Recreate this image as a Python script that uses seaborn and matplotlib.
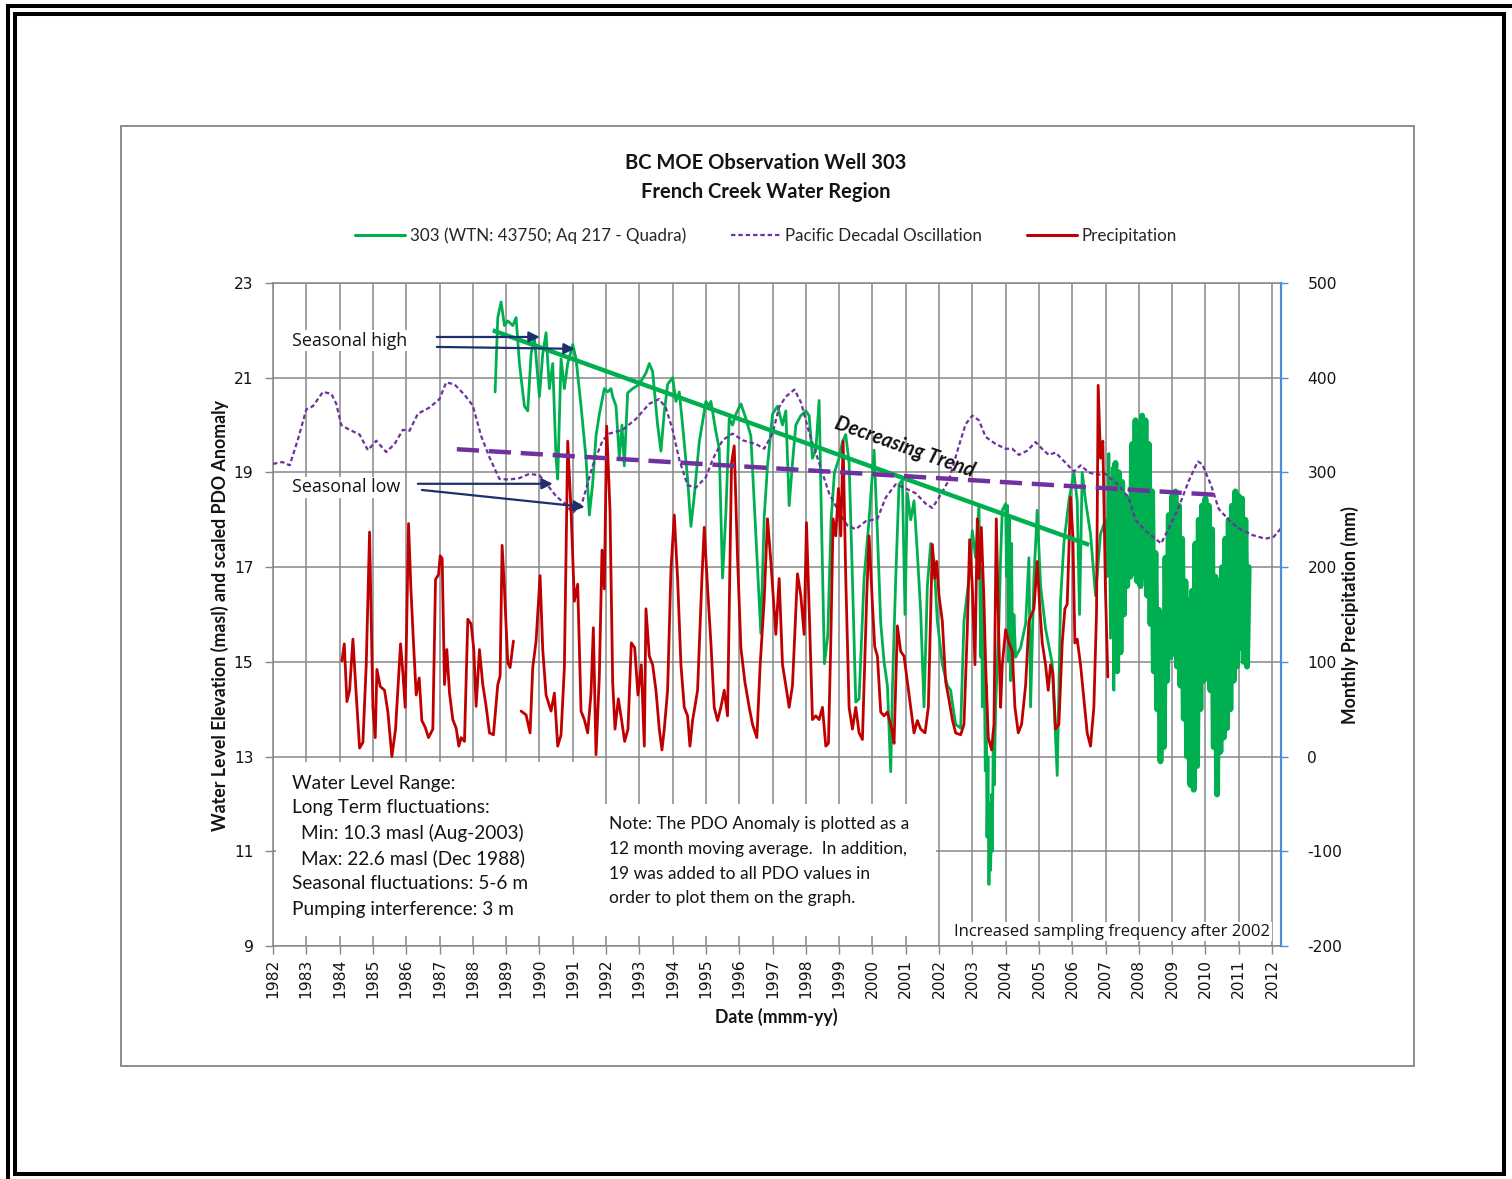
import numpy as np
import pandas as pd
import seaborn as sns
import matplotlib
matplotlib.use("Agg")
import matplotlib.pyplot as plt
from matplotlib.patches import Rectangle
from matplotlib.lines import Line2D

# ---------------- data ----------------
# water level, well 303 (masl) - regular sampling
well_years = [1988.67, 1988.75, 1988.85, 1988.95, 1989.05, 1989.2, 1989.3, 1989.4, 1989.55, 1989.65,
              1989.75, 1989.85, 1990.0, 1990.1, 1990.2, 1990.3, 1990.4, 1990.5, 1990.55, 1990.65,
              1990.75, 1990.85, 1991.0, 1991.1, 1991.25, 1991.4, 1991.5, 1991.6, 1991.7, 1991.8,
              1991.95, 1992.05, 1992.15, 1992.2, 1992.3, 1992.4, 1992.48, 1992.55, 1992.65, 1992.8,
              1993.0, 1993.2, 1993.3, 1993.4, 1993.55, 1993.65, 1993.75, 1993.85, 1994.0, 1994.1,
              1994.2, 1994.3, 1994.45, 1994.55, 1994.65, 1994.8, 1995.0, 1995.08, 1995.15, 1995.3,
              1995.4, 1995.5, 1995.6, 1995.7, 1995.8, 1995.9, 1996.05, 1996.2, 1996.35, 1996.5,
              1996.65, 1996.75, 1996.85, 1997.0, 1997.15, 1997.3, 1997.4, 1997.5, 1997.6, 1997.7,
              1997.85, 1998.0, 1998.1, 1998.2, 1998.3, 1998.4, 1998.47, 1998.56, 1998.66, 1998.76,
              1998.86, 1999.0, 1999.1, 1999.2, 1999.3, 1999.4, 1999.5, 1999.6, 1999.75, 1999.9,
              2000.05, 2000.15, 2000.25, 2000.35, 2000.45, 2000.55, 2000.6, 2000.7, 2000.8, 2000.9,
              2000.98, 2001.05, 2001.15, 2001.25, 2001.35, 2001.45, 2001.55, 2001.65, 2001.75, 2001.85,
              2001.95, 2002.1, 2002.25, 2002.35, 2002.4, 2002.5, 2002.65, 2002.75, 2002.9, 2003.0,
              2003.1, 2003.2, 2003.25, 2003.28, 2003.3, 2003.33, 2003.36, 2003.39, 2003.42, 2003.44,
              2003.47, 2003.5, 2003.52, 2003.55, 2003.58, 2003.6, 2003.63, 2003.66, 2003.7, 2003.8,
              2003.85, 2003.9, 2004.0, 2004.03, 2004.06, 2004.09, 2004.12, 2004.15, 2004.18, 2004.21,
              2004.25, 2004.3, 2004.45, 2004.6, 2004.7, 2004.75, 2004.85, 2004.95, 2005.05, 2005.2,
              2005.4, 2005.55, 2005.65, 2005.75, 2005.9, 2006.05, 2006.15, 2006.22, 2006.3, 2006.4,
              2006.55, 2006.7, 2006.85, 2007.0, 2007.05, 2007.1, 2007.15, 2007.2, 2007.25, 2007.28]
well_levels = [20.7, 22.27, 22.6, 22.1, 22.2, 22.1, 22.27, 21.3, 20.4, 20.3,
               21.5, 21.86, 20.6, 21.5, 21.95, 20.77, 21.3, 19.3, 18.86, 21.4,
               20.77, 21.3, 21.7, 21.4, 20.4, 19.3, 18.1, 18.77, 19.77, 20.23,
               20.77, 20.7, 20.77, 20.6, 20.4, 19.32, 20.0, 19.14, 20.68, 20.77,
               20.86, 21.1, 21.3, 21.13, 20.0, 19.45, 20.27, 20.86, 21.0, 20.5,
               20.7, 20.0, 18.86, 17.86, 18.5, 19.64, 20.5, 20.4, 20.5, 19.86,
               19.5, 16.77, 18.14, 20.14, 20.0, 20.23, 20.45, 20.14, 19.77, 17.68,
               15.6, 18.05, 19.14, 20.23, 20.4, 20.0, 20.3, 18.3, 19.2, 20.0,
               20.2, 20.3, 20.2, 19.3, 19.47, 20.52, 18.0, 14.96, 15.56, 18.0,
               19.0, 19.3, 19.65, 19.8, 19.2, 16.76, 14.15, 14.22, 16.76, 18.0,
               19.47, 17.73, 15.82, 15.0, 14.5, 12.68, 14.4, 16.76, 18.75, 18.84,
               16.0, 18.56, 18.0, 18.4, 17.3, 16.05, 14.05, 16.6, 17.5, 17.14,
               15.86, 14.95, 14.5, 14.4, 14.14, 13.68, 13.6, 15.86, 16.77, 17.77,
               17.2, 18.3, 15.1, 17.0, 14.05, 16.0, 15.0, 12.7, 14.5, 11.3,
               13.0, 10.3, 12.0, 10.6, 12.2, 11.0, 13.5, 12.4, 14.05, 15.86,
               17.2, 18.2, 18.34, 16.8, 18.3, 15.0, 18.0, 14.6, 17.5, 14.8,
               16.0, 15.1, 15.3, 15.8, 17.2, 14.05, 16.77, 18.2, 16.6, 15.7,
               14.96, 12.6, 16.3, 17.5, 18.4, 19.0, 18.4, 16.0, 19.0, 18.4,
               17.7, 16.4, 17.7, 18.0, 16.8, 19.4, 15.5, 19.1, 14.4, 19.1]

# water level after sampling frequency was increased (starts at last regular point)
well_hf_years = [2007.28, 2007.30, 2007.35, 2007.40, 2007.45, 2007.50, 2007.55, 2007.60, 2007.65, 2007.70,
                 2007.75, 2007.80, 2007.85, 2007.90, 2007.95, 2008.00, 2008.05, 2008.10, 2008.15, 2008.20,
                 2008.25, 2008.30, 2008.35, 2008.40, 2008.45, 2008.50, 2008.55, 2008.60, 2008.65, 2008.70,
                 2008.75, 2008.80, 2008.85, 2008.90, 2008.95, 2009.00, 2009.05, 2009.10, 2009.15, 2009.20,
                 2009.25, 2009.30, 2009.35, 2009.40, 2009.45, 2009.50, 2009.55, 2009.60, 2009.65, 2009.70,
                 2009.75, 2009.80, 2009.85, 2009.90, 2009.95, 2010.00, 2010.05, 2010.10, 2010.15, 2010.20,
                 2010.25, 2010.30, 2010.35, 2010.40, 2010.45, 2010.50, 2010.55, 2010.60, 2010.65, 2010.70,
                 2010.75, 2010.80, 2010.85, 2010.90, 2010.95, 2011.00, 2011.05, 2011.10, 2011.15, 2011.20,
                 2011.25, 2011.30]
well_hf_levels = [19.1, 19.2, 14.8, 19.0, 15.2, 18.8, 16.0, 18.5, 16.6, 18.3,
                  16.8, 19.6, 16.9, 20.1, 16.7, 20.0, 16.6, 20.2, 16.8, 20.1,
                  16.4, 19.6, 15.8, 18.6, 14.8, 17.3, 14.0, 16.1, 12.9, 15.5,
                  13.2, 17.2, 14.6, 18.1, 15.1, 18.5, 15.2, 18.6, 14.9, 18.3,
                  14.5, 17.6, 13.8, 16.7, 13.0, 16.3, 12.4, 16.5, 12.3, 17.5,
                  12.8, 18.0, 14.0, 18.3, 14.6, 18.45, 14.9, 18.3, 14.4, 17.8,
                  13.2, 16.8, 12.2, 16.7, 13.1, 17.0, 13.4, 17.6, 13.6, 18.0,
                  14.0, 18.3, 14.6, 18.6, 14.9, 18.5, 15.3, 18.45, 15.0, 18.0,
                  14.9, 17.0]

# PDO anomaly, 12 month moving average + 19
pdo_years = [1982.0, 1982.28, 1982.5, 1982.75, 1983.0, 1983.2, 1983.5, 1983.75, 1983.9, 1984.05,
             1984.3, 1984.6, 1984.85, 1985.1, 1985.4, 1985.65, 1985.9, 1986.1, 1986.35, 1986.7,
             1987.0, 1987.2, 1987.45, 1987.75, 1988.0, 1988.25, 1988.5, 1988.8, 1989.1, 1989.4,
             1989.7, 1990.0, 1990.2, 1990.5, 1990.8, 1991.0, 1991.3, 1991.6, 1991.9, 1992.1,
             1992.5, 1992.9, 1993.3, 1993.6, 1993.8, 1994.0, 1994.2, 1994.45, 1994.7, 1995.0,
             1995.2, 1995.5, 1995.8, 1996.1, 1996.5, 1996.75, 1997.0, 1997.2, 1997.4, 1997.66,
             1997.86, 1998.1, 1998.4, 1998.7, 1999.0, 1999.25, 1999.5, 1999.8, 2000.15, 2000.4,
             2000.7, 2001.0, 2001.3, 2001.6, 2001.8, 2002.0, 2002.3, 2002.6, 2002.8, 2003.0,
             2003.2, 2003.4, 2003.7, 2004.0, 2004.2, 2004.4, 2004.65, 2004.9, 2005.15, 2005.3,
             2005.5, 2005.75, 2006.05, 2006.25, 2006.5, 2006.75, 2007.0, 2007.2, 2007.4, 2007.7,
             2007.9, 2008.2, 2008.5, 2008.67, 2008.9, 2009.2, 2009.5, 2009.77, 2009.9, 2010.17,
             2010.4, 2010.7, 2011.0, 2011.4, 2011.8, 2012.05, 2012.27]
pdo_vals = [19.18, 19.22, 19.15, 19.7, 20.33, 20.4, 20.7, 20.66, 20.45, 20.0,
            19.9, 19.8, 19.47, 19.67, 19.43, 19.6, 19.9, 19.88, 20.24, 20.37,
            20.55, 20.9, 20.86, 20.64, 20.41, 19.77, 19.32, 18.86, 18.85, 18.88,
            18.97, 18.94, 18.77, 18.5, 18.32, 18.14, 18.4, 19.14, 19.68, 19.82,
            19.9, 20.13, 20.45, 20.55, 20.36, 19.9, 19.27, 18.73, 18.68, 18.9,
            19.27, 19.68, 19.82, 19.68, 19.6, 19.5, 19.82, 20.38, 20.6, 20.75,
            20.47, 19.84, 19.2, 18.56, 18.15, 17.88, 17.8, 17.97, 18.02, 18.47,
            18.75, 18.66, 18.56, 18.34, 18.25, 18.47, 18.84, 19.57, 20.02, 20.2,
            20.1, 19.75, 19.6, 19.5, 19.5, 19.37, 19.46, 19.64, 19.46, 19.37,
            19.42, 19.24, 19.02, 19.15, 19.0, 18.95, 18.97, 18.84, 18.73, 18.45,
            18.0, 17.77, 17.6, 17.5, 17.82, 18.27, 18.82, 19.23, 19.18, 18.73,
            18.23, 18.0, 17.82, 17.68, 17.6, 17.64, 17.82]

# monthly precipitation (mm) - two runs, gap in 1989
rain_years_a = [1984.07, 1984.14, 1984.22, 1984.3, 1984.4, 1984.5, 1984.6, 1984.7, 1984.8, 1984.9,
                1985.0, 1985.07, 1985.12, 1985.22, 1985.35, 1985.45, 1985.57, 1985.68, 1985.83, 1985.9,
                1985.97, 1986.07, 1986.14, 1986.22, 1986.3, 1986.39, 1986.47, 1986.57, 1986.67, 1986.8,
                1986.88, 1986.97, 1987.02, 1987.08, 1987.15, 1987.22, 1987.3, 1987.4, 1987.5, 1987.58,
                1987.65, 1987.75, 1987.85, 1987.95, 1988.03, 1988.1, 1988.2, 1988.3, 1988.4, 1988.5,
                1988.62, 1988.75, 1988.82, 1988.88, 1988.95, 1989.05, 1989.12, 1989.22]
rain_mm_a = [101, 119, 58, 70, 124, 65, 9, 15, 97, 237,
             52, 20, 92, 74, 70, 47, 0, 29, 119, 88,
             52, 246, 178, 119, 65, 83, 38, 31, 20, 29,
             187, 192, 212, 209, 76, 113, 67, 39, 30, 11,
             20, 16, 145, 140, 113, 53, 113, 76, 53, 25,
             23, 76, 85, 223, 177, 99, 94, 122]
rain_years_b = [1989.45, 1989.6, 1989.72, 1989.8, 1989.9, 1990.02, 1990.1, 1990.2, 1990.35, 1990.45,
                1990.55, 1990.65, 1990.75, 1990.85, 1990.95, 1991.05, 1991.15, 1991.25, 1991.35, 1991.45,
                1991.55, 1991.62, 1991.7, 1991.8, 1991.88, 1991.95, 1992.02, 1992.12, 1992.2, 1992.27,
                1992.37, 1992.47, 1992.56, 1992.66, 1992.76, 1992.86, 1992.96, 1993.06, 1993.15, 1993.2,
                1993.3, 1993.4, 1993.5, 1993.6, 1993.68, 1993.75, 1993.85, 1993.95, 1994.05, 1994.15,
                1994.25, 1994.35, 1994.45, 1994.52, 1994.6, 1994.75, 1994.88, 1994.95, 1995.05, 1995.15,
                1995.25, 1995.35, 1995.45, 1995.55, 1995.65, 1995.77, 1995.85, 1995.95, 1996.05, 1996.17,
                1996.3, 1996.4, 1996.53, 1996.63, 1996.75, 1996.85, 1996.95, 1997.1, 1997.2, 1997.3,
                1997.4, 1997.5, 1997.6, 1997.75, 1997.85, 1997.95, 1998.02, 1998.12, 1998.2, 1998.3,
                1998.4, 1998.5, 1998.6, 1998.68, 1998.75, 1998.82, 1998.9, 1998.98, 1999.05, 1999.12,
                1999.2, 1999.3, 1999.4, 1999.5, 1999.6, 1999.7, 1999.83, 1999.9, 2000.0, 2000.07,
                2000.15, 2000.25, 2000.35, 2000.45, 2000.58, 2000.65, 2000.75, 2000.85, 2000.95, 2001.05,
                2001.15, 2001.25, 2001.35, 2001.45, 2001.58, 2001.68, 2001.8, 2001.87, 2001.93, 2002.0,
                2002.1, 2002.2, 2002.3, 2002.4, 2002.5, 2002.65, 2002.75, 2002.85, 2002.92, 2003.0,
                2003.08, 2003.15, 2003.2, 2003.27, 2003.35, 2003.4, 2003.48, 2003.58, 2003.65, 2003.72,
                2003.8, 2003.85, 2003.9, 2004.0, 2004.1, 2004.2, 2004.28, 2004.38, 2004.48, 2004.6,
                2004.7, 2004.85, 2004.95, 2005.02, 2005.1, 2005.2, 2005.28, 2005.35, 2005.42, 2005.5,
                2005.6, 2005.7, 2005.78, 2005.85, 2005.95, 2006.02, 2006.08, 2006.15, 2006.25, 2006.35,
                2006.45, 2006.55, 2006.65, 2006.73, 2006.78, 2006.85, 2006.92, 2007.0, 2007.07]
rain_mm_b = [48, 44, 25, 94, 122, 191, 113, 65, 48, 67,
             11, 23, 94, 333, 260, 164, 182, 48, 39, 25,
             67, 136, 2, 85, 218, 177, 349, 260, 79, 29,
             61, 38, 16, 29, 120, 115, 65, 97, 11, 156,
             106, 97, 70, 29, 7, 29, 70, 197, 255, 188,
             97, 52, 43, 11, 38, 70, 188, 242, 178, 120,
             52, 38, 52, 70, 43, 310, 328, 210, 115, 79,
             52, 34, 20, 97, 165, 251, 206, 129, 188, 97,
             75, 52, 75, 193, 170, 129, 247, 134, 39, 43,
             39, 52, 11, 14, 120, 251, 233, 283, 233, 333,
             188, 52, 29, 52, 25, 18, 170, 233, 161, 116,
             106, 47, 43, 47, 29, 14, 138, 111, 106, 79,
             52, 25, 38, 29, 25, 52, 224, 188, 206, 170,
             143, 79, 60, 39, 25, 23, 34, 134, 229, 179,
             97, 251, 188, 242, 165, 97, 20, 7, 34, 251,
             120, 52, 97, 134, 120, 111, 52, 25, 34, 75,
             143, 156, 206, 161, 120, 97, 70, 97, 88, 29,
             34, 120, 156, 161, 274, 233, 120, 124, 97, 61,
             25, 11, 52, 152, 392, 315, 333, 174, 84]

# hand drawn trend lines (start, end)
well_trend_years = [1988.6, 2006.51]
well_trend_levels = [22.0, 17.47]
pdo_trend_years = [1987.52, 2010.47]
pdo_trend_levels = [19.49, 18.52]

year_ticks = list(range(1982, 2013))
level_ticks = [9, 11, 13, 15, 17, 19, 21, 23]
rain_ticks = [-200, -100, 0, 100, 200, 300, 400, 500]

GREEN = "#00B050"
RED = "#C00000"
PURPLE = "#7030A0"
NAVY = "#1F2F6E"
GRID = "#878787"
BLUE = "#4A8FDB"
INK = "#141414"

W, H = 1512, 1179

sns.set_theme(style="white")
plt.rcParams['font.family'] = ['DejaVu Sans']

fig = plt.figure(figsize=(W / 100, H / 100), dpi=100)
ax = fig.add_axes([273 / W, 1 - 946 / H, 1008 / W, 663 / H])
ax2 = ax.twinx()

# frames round the picture (outer one runs off the right/bottom edge)
for x0, y0, x1, y1, lw, col in [(7.5, 5.5, 1530, 1200, 2.9, "black"),
                                  (15, 14, 1504, 1174, 2.9, "black"),
                                  (121, 126, 1414, 1066, 1.4, "#8C8C8C")]:
    fig.patches.append(Rectangle((x0 / W, 1 - y1 / H), (x1 - x0) / W, (y1 - y0) / H,
                                 transform=fig.transFigure, fill=False, lw=lw,
                                 edgecolor=col, zorder=0))

# series
sns.lineplot(x=well_years, y=well_levels, ax=ax, color=GREEN, lw=2, estimator=None, sort=False, zorder=3)
sns.lineplot(x=well_hf_years, y=well_hf_levels, ax=ax, color=GREEN, lw=4.2, estimator=None, sort=False,
             zorder=3)
sns.lineplot(x=pdo_years, y=pdo_vals, ax=ax, color=PURPLE, lw=1.6, estimator=None, sort=False,
             linestyle=(0, (2, 1.3)), zorder=3)
sns.lineplot(x=rain_years_a, y=rain_mm_a, ax=ax2, color=RED, lw=2, estimator=None, sort=False)
sns.lineplot(x=rain_years_b, y=rain_mm_b, ax=ax2, color=RED, lw=2, estimator=None, sort=False)

ax.set_xlim(1982, 2012.27)
ax.set_ylim(9, 23)
ax2.set_ylim(-200, 500)

ax.set_xticks(year_ticks)
ax.set_xticklabels([str(y) for y in year_ticks], rotation=90, fontsize=11.2, color=INK)
ax.set_yticks(level_ticks)
ax.set_yticklabels([str(v) for v in level_ticks], fontsize=11.2, color=INK)
ax2.set_yticks(rain_ticks)
ax2.set_yticklabels([str(v) for v in rain_ticks], fontsize=11.2, color=INK)
ax.set_xlabel("")
ax.set_ylabel("")
ax2.set_ylabel("")

ax.grid(True, color=GRID, lw=1.1)
ax.set_axisbelow(True)
ax2.grid(False)
ax.tick_params(axis='x', direction='out', length=6, width=1, color=GRID, pad=3, bottom=True)
ax.tick_params(axis='y', direction='out', length=6, width=1, color=GRID, pad=8, left=True)
ax2.tick_params(axis='y', direction='out', length=5, width=1, color=BLUE, pad=14, right=True)
for s in ['left', 'bottom', 'top']:
    ax.spines[s].set_color(GRID)
    ax.spines[s].set_linewidth(1.1)
    ax2.spines[s].set_visible(False)
ax.spines['right'].set_visible(False)
ax2.spines['right'].set_color(BLUE)
ax2.spines['right'].set_linewidth(1.6)

# white text panels hiding the grid
for x0, x1, y0, y1 in [(1982.1, 1991.75, 9.21, 12.89), (1991.75, 2001.9, 9.21, 12.0)]:
    ax.add_patch(Rectangle((x0, y0), x1 - x0, y1 - y0, facecolor="white", edgecolor="none", zorder=1))

# trend lines + annotations on top of everything
ax2.plot(well_trend_years, well_trend_levels, transform=ax.transData, color=GREEN, lw=3.2,
         solid_capstyle='butt', zorder=6)
ax2.plot(pdo_trend_years, pdo_trend_levels, transform=ax.transData, color=PURPLE, lw=3.2,
         linestyle=(0, (5, 2.2)), zorder=6)

for (xa, ya), (xb, yb) in [((1986.92, 21.86), (1990.01, 21.86)),
                            ((1986.92, 21.65), (1991.06, 21.61)),
                            ((1986.35, 18.76), (1990.40, 18.76)),
                            ((1986.47, 18.63), (1991.36, 18.27))]:
    ax2.annotate("", xy=(xb, yb), xytext=(xa, ya), xycoords=ax.transData, textcoords=ax.transData,
                 arrowprops=dict(arrowstyle='-|>', color=NAVY, lw=1.6, mutation_scale=16,
                                 shrinkA=0, shrinkB=0), zorder=7)

txt = dict(transform=ax.transData, zorder=8)
ax2.text(1982.57, 21.78, "Seasonal high", family="Open Sans", fontsize=12.9, va='center', color=INK,
         bbox=dict(facecolor='white', edgecolor='none', pad=1), **txt)
ax2.text(1982.57, 18.69, "Seasonal low", family="Open Sans", fontsize=12.9, va='center', color=INK,
         bbox=dict(facecolor='white', edgecolor='none', pad=1), **txt)
ax2.text(2000.96, 19.54, "Decreasing Trend", family="Lato", fontsize=14.3, fontweight='bold',
         fontstyle='italic', color="#111111", rotation=-19.5, rotation_mode='anchor',
         ha='center', va='center', **txt)

left_lines = [(1982.57, 12.44, "Water Level Range:"),
              (1982.57, 11.915, "Long Term fluctuations:"),
              (1982.84, 11.39, "Min: 10.3 masl (Aug-2003)"),
              (1982.84, 10.86, "Max: 22.6 masl (Dec 1988)"),
              (1982.57, 10.31, "Seasonal fluctuations: 5-6 m"),
              (1982.57, 9.78, "Pumping interference: 3 m")]
for x, y, s in left_lines:
    ax2.text(x, y, s, family="Lato", fontsize=13.7, va='center', color=INK, **txt)

note_lines = ["Note: The PDO Anomaly is plotted as a",
              "12 month moving average.  In addition,",
              "19 was added to all PDO values in",
              "order to plot them on the graph."]
for y, s in zip([11.58, 11.05, 10.52, 10.01], note_lines):
    ax2.text(1992.08, y, s, family="Lato", fontsize=12.5, va='center', color=INK, **txt)

ax2.text(2002.46, 9.3, "Increased sampling frequency after 2002", family="Open Sans", fontsize=12,
         va='center', color=INK, bbox=dict(facecolor='white', edgecolor='none', pad=1), **txt)

# titles and axis labels
fig.text(766 / W, 1 - 163 / H, "BC MOE Observation Well 303", family="Lato", fontsize=14.5,
         fontweight='bold', ha='center', va='center', color=INK)
fig.text(766 / W, 1 - 192 / H, "French Creek Water Region", family="Lato", fontsize=14.5,
         fontweight='bold', ha='center', va='center', color=INK)
fig.text(220 / W, 1 - 615 / H, "Water Level Elevation (masl) and scaled PDO Anomaly", family="Lato",
         fontsize=12.8, fontweight='bold', rotation=90, ha='center', va='center', color=INK)
fig.text(1350 / W, 1 - 615 / H, "Monthly Precipitation (mm)", family="Lato",
         fontsize=12.8, fontweight='bold', rotation=90, ha='center', va='center', color=INK)
fig.text(776 / W, 1 - 1017 / H, "Date (mmm-yy)", family="Lato",
         fontsize=12.8, fontweight='bold', ha='center', va='center', color=INK)

handles = [Line2D([], [], color=GREEN, lw=2.2),
           Line2D([], [], color=PURPLE, lw=1.6, linestyle=(0, (2, 1.3))),
           Line2D([], [], color=RED, lw=2.2)]
labels = ["303 (WTN: 43750; Aq 217 - Quadra)", "Pacific Decadal Oscillation", "Precipitation"]
fig.legend(handles, labels, loc='center', bbox_to_anchor=(766 / W, 1 - 236 / H), ncol=3,
           frameon=False, handlelength=2.95, handletextpad=0.25, columnspacing=2.65,
           prop=dict(family="Lato", size=12.25))

fig.savefig("out.png", dpi=100)
